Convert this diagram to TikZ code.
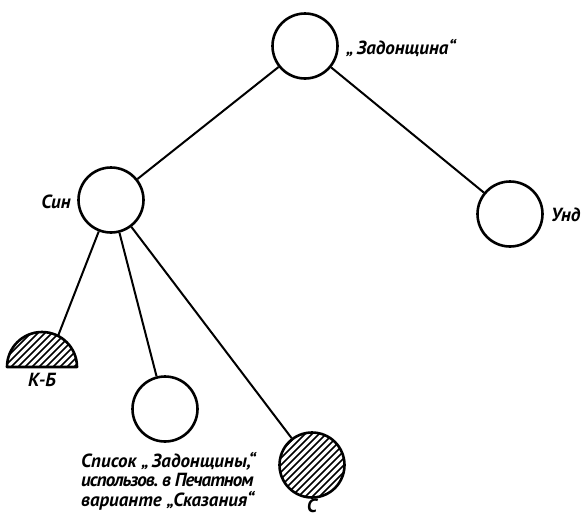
\documentclass[tikz,border=0pt]{standalone}
\usepackage{fontspec}
\setmainfont{PT Sans}
\begin{document}
\begin{tikzpicture}[x=1pt,y=-1pt,
  ring/.style={circle,draw,line width=2.6pt,inner sep=0pt,minimum size=#1},
  ring/.default=65pt,
  edge/.style={line width=2pt},
  lbl/.style={font=\fontsize{19}{19.5}\selectfont\bfseries\itshape,inner sep=0pt},
  hatch/.style={line width=1.7pt}]
\useasboundingbox (0,0) rectangle (583,517);

% tree nodes
\node[ring] (top) at (305,46) {};
\node[ring] (sin) at (111,200) {};
\node[ring] (und) at (510,214) {};
\node[ring] (spisok) at (165,409) {};
\node[ring] (s) at (312,465) {};

% hatched fill of the full circle
\begin{scope}
  \clip (312,465) circle (32pt);
  \foreach \k in {-80,-73,...,80}
    \draw[hatch] (312+\k-40,465+40) -- (312+\k+40,465-40);
\end{scope}

% hatched half disk
\begin{scope}
  \clip (7,367) arc (180:0:35pt) -- cycle;
  \foreach \k in {-80,-73,...,80}
    \draw[hatch] (42+\k-40,367+40) -- (42+\k+40,367-40);
\end{scope}
\draw[line width=2.6pt,line join=round] (7,367) arc (180:0:35pt) -- cycle;
\coordinate (kb) at (58,336);

% connectors
\draw[edge] (top) -- (sin);
\draw[edge] (top) -- (und);
\draw[edge] (sin) -- (kb);
\draw[edge] (sin) -- (spisok);
\draw[edge] (sin) -- (s);

% labels
\node[lbl,anchor=base west] (ltop) at (346,54) {„\,Задонщина“};
\node[lbl,anchor=base east] (lsin) at (71,208) {Син};
\node[lbl,anchor=base west] (lund) at (551,221) {Унд};
\node[lbl,anchor=base] (lkb) at (42,386) {К-Б};
\node[lbl,anchor=base west,align=left] (lspisok) at (81,506)
  {Список „\,Задонщины,“\\{\addfontfeature{LetterSpace=-5}использов.\hspace{0.2em}в Печатном}\\варианте „Сказания“};
\node[lbl,anchor=base] (ls) at (312,512) {С};
\end{tikzpicture}
\end{document}
